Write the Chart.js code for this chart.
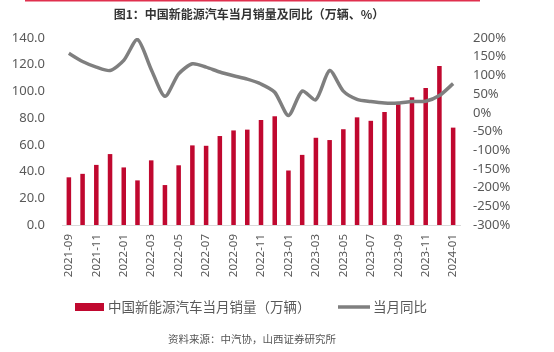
<!DOCTYPE html>
<html>
<head>
<meta charset="utf-8">
<script src="https://cdn.jsdelivr.net/npm/chart.js@4/dist/chart.umd.min.js"></script>
<style>
  html, body { margin: 0; padding: 0; background: #fff; }
  #wrap { width: 554px; height: 352px; position: relative; }
</style>
</head>
<body>
<div id="wrap"><canvas id="c" width="554" height="352"></canvas></div>
<script>
// 月份
const months = [
  '2021-09','2021-10','2021-11','2021-12',
  '2022-01','2022-02','2022-03','2022-04','2022-05','2022-06',
  '2022-07','2022-08','2022-09','2022-10','2022-11','2022-12',
  '2023-01','2023-02','2023-03','2023-04','2023-05','2023-06',
  '2023-07','2023-08','2023-09','2023-10','2023-11','2023-12',
  '2024-01'
];
// 当月销量（万辆）
const sales = [
  35.7, 38.3, 45.0, 53.1,
  43.1, 33.4, 48.4, 29.9, 44.7, 59.6,
  59.3, 66.6, 70.8, 71.4, 78.6, 81.4,
  40.8, 52.5, 65.3, 63.6, 71.7, 80.6,
  78.0, 84.6, 90.4, 95.6, 102.6, 119.1,
  72.9
];
// 当月同比（%）
const yoy = [
  159, 137, 122, 113,
  140, 196, 116, 44, 104, 131,
  122, 109, 99, 90, 77, 55,
  -7, 58, 35, 113, 58, 36,
  30, 26, 26, 30, 31, 46,
  78
];
const leftTicks = { min: 0, max: 140, step: 20 };
const rightTicks = { min: -300, max: 200, step: 50 };

const tickFont = { family: 'Noto Sans, sans-serif', size: 13 };
const tickColor = '#595959';

// 标题、图例、资料来源
const decor = {
  id: 'decor',
  afterDraw(chart) {
    const ctx = chart.ctx;
    ctx.save();
    ctx.fillStyle = '#e0304e';
    ctx.fillRect(25, 0, 455, 1.5);

    ctx.fillStyle = '#333';
    ctx.font = 'bold 12px "Noto Sans CJK SC"';
    ctx.textAlign = 'center';
    ctx.textBaseline = 'middle';
    ctx.fillText('图1：中国新能源汽车当月销量及同比（万辆、%）', 249, 14);

    const ds = chart.data.datasets;
    ctx.font = '13.5px "Noto Sans CJK SC"';
    ctx.textAlign = 'left';
    ctx.fillStyle = ds[1].backgroundColor;
    ctx.fillRect(75, 303, 29, 8);
    ctx.fillStyle = tickColor;
    ctx.fillText(ds[1].label, 108, 307);
    ctx.strokeStyle = ds[0].borderColor;
    ctx.lineWidth = 3.5;
    ctx.beginPath();
    ctx.moveTo(338, 307);
    ctx.lineTo(370, 307);
    ctx.stroke();
    ctx.fillText(ds[0].label, 373, 307);

    ctx.fillStyle = '#555';
    ctx.font = '10.5px "Noto Sans CJK SC"';
    ctx.textAlign = 'center';
    ctx.fillText('资料来源：中汽协，山西证券研究所', 252, 339);
    ctx.restore();
  }
};

new Chart(document.getElementById('c'), {
  data: {
    labels: months,
    datasets: [
      {
        type: 'line',
        label: '当月同比',
        data: yoy,
        yAxisID: 'y1',
        borderColor: '#7f7f7f',
        borderWidth: 3.5,
        pointRadius: 0,
        tension: 0.25,
        order: 0
      },
      {
        type: 'bar',
        label: '中国新能源汽车当月销量（万辆）',
        data: sales,
        yAxisID: 'y',
        backgroundColor: '#c0082f',
        barPercentage: 0.33,
        categoryPercentage: 1,
        order: 1
      }
    ]
  },
  options: {
    responsive: false,
    animation: false,
    devicePixelRatio: 1,
    layout: { padding: { top: 38, left: 0, right: 0, bottom: 0 } },
    plugins: {
      legend: { display: false },
      tooltip: { enabled: false }
    },
    scales: {
      x: {
        grid: { display: false, drawTicks: false },
        border: { display: true, color: '#d9d9d9', width: 1 },
        ticks: {
          autoSkip: false,
          minRotation: 90,
          maxRotation: 90,
          padding: 9,
          color: tickColor,
          font: { family: 'Noto Sans, sans-serif', size: 11.5 },
          callback: (v, i) => (i % 2 === 0 ? months[i] : '')
        },
        afterFit: s => { s.height = 127; }
      },
      y: {
        position: 'left',
        min: leftTicks.min,
        max: leftTicks.max,
        grid: { display: false, drawTicks: false },
        border: { display: false },
        ticks: {
          stepSize: leftTicks.step,
          padding: 17,
          color: tickColor,
          font: tickFont,
          callback: v => v.toFixed(1)
        },
        afterFit: s => { s.width = 62; }
      },
      y1: {
        position: 'right',
        min: rightTicks.min,
        max: rightTicks.max,
        grid: { display: false, drawTicks: false },
        border: { display: false },
        ticks: {
          stepSize: rightTicks.step,
          padding: 13,
          color: tickColor,
          font: tickFont,
          callback: v => v + '%'
        },
        afterFit: s => { s.width = 94; }
      }
    }
  },
  plugins: [decor]
});
</script>
</body>
</html>
